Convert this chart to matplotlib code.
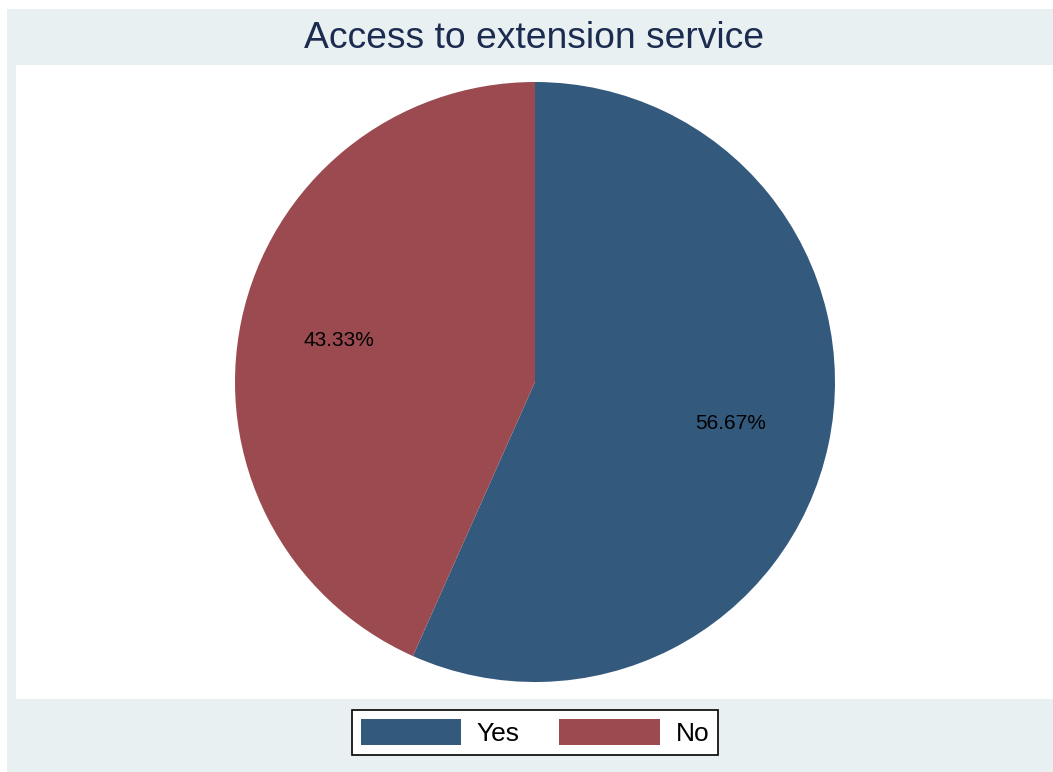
import matplotlib.pyplot as plt
from matplotlib.patches import Rectangle, Patch

plt.rcParams['font.family'] = ['Liberation Sans', 'DejaVu Sans']

# data
labels = ['Yes', 'No']
shares = [56.67, 43.33]
colors = ['#33597D', '#9B4A50']
title = 'Access to extension service'

W, H = 1053, 772
fig = plt.figure(figsize=(W / 100, H / 100), dpi=100)
fig.patch.set_facecolor('white')

# outer light background and white plot region (Stata style)
fig.patches.append(Rectangle((7 / W, 0), 1, 1 - 9 / H, transform=fig.transFigure,
                             facecolor='#E8F0F2', edgecolor='none', zorder=-2))
fig.patches.append(Rectangle((16 / W, 1 - 699 / H), 1, (699 - 65) / H, transform=fig.transFigure,
                             facecolor='white', edgecolor='none', zorder=-1))

# pie axes: center (535, 382) px, radius 300 px
ax = fig.add_axes([(535 - 300) / W, 1 - (382 + 300) / H, 600 / W, 600 / H], zorder=1)
ax.pie(shares, colors=colors, startangle=90, counterclock=False,
       autopct='%.2f%%', pctdistance=0.667, radius=1,
       wedgeprops={'linewidth': 0, 'antialiased': True},
       textprops={'fontsize': 15, 'color': 'black'})
ax.set_xlim(-1, 1)
ax.set_ylim(-1, 1)
ax.set_aspect('equal')
ax.axis('off')

fig.text(534 / W, 1 - 39 / H, title, ha='center', va='center',
         fontsize=26.8, color='#1C2B50', zorder=2)

handles = [Patch(facecolor=c, edgecolor='none') for c in colors]
leg = fig.legend(handles, labels, loc='center', bbox_to_anchor=(535 / W, 1 - 732.5 / H),
                 ncol=2, fontsize=19, frameon=True, fancybox=False, framealpha=1,
                 handlelength=3.8, handleheight=1.15, handletextpad=0.6,
                 columnspacing=1.5, borderpad=0.35, borderaxespad=0)
leg.get_frame().set_edgecolor('black')
leg.get_frame().set_linewidth(1.2)
leg.get_frame().set_facecolor('white')
leg.set_zorder(3)

fig.savefig('out.png', dpi=100)
